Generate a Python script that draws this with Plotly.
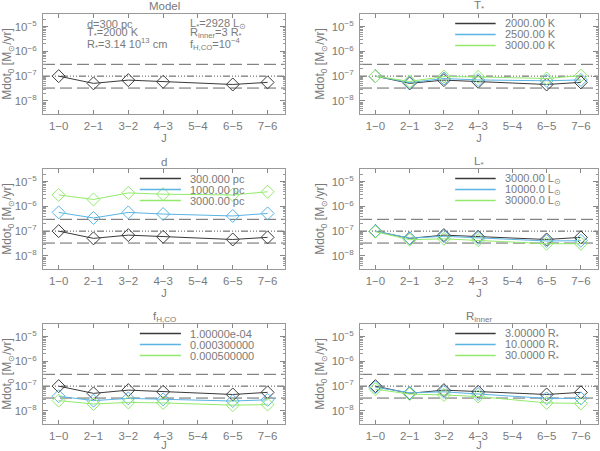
import plotly.graph_objects as go
from plotly.subplots import make_subplots

# transitions (5-4 has no measurement)
j_labels = ["1-0", "2-1", "3-2", "4-3", "5-4", "6-5", "7-6"]
j_pos = [1, 2, 3, 4, 5, 6, 7]

# mass-loss rates [Msun/yr]
model = [1.0e-7, 5.1e-8, 6.9e-8, 5.9e-8, None, 4.6e-8, 5.6e-8]

tstar_2500 = [1.0e-7, 5.5e-8, 8.0e-8, 7.0e-8, None, 6.5e-8, 7.0e-8]
tstar_3000 = [1.0e-7, 6.1e-8, 9.6e-8, 9.3e-8, None, 8.0e-8, 1.05e-7]

dist_1000 = [5.7e-7, 3.4e-7, 5.7e-7, 4.9e-7, None, 4.1e-7, 5.2e-7]
dist_3000 = [2.9e-6, 1.9e-6, 3.5e-6, 3.1e-6, None, 2.9e-6, 3.9e-6]

lstar_10000 = [1.0e-7, 5.2e-8, 6.2e-8, 5.3e-8, None, 4.0e-8, 4.1e-8]
lstar_30000 = [9.5e-8, 4.5e-8, 4.9e-8, 4.3e-8, None, 3.1e-8, 3.1e-8]

fhco_3e4 = [3.9e-8, 2.6e-8, 3.2e-8, 2.9e-8, None, 2.5e-8, 2.8e-8]
fhco_5e4 = [2.6e-8, 1.9e-8, 2.2e-8, 2.1e-8, None, 1.7e-8, 1.8e-8]

rin_10 = [9.0e-8, 5.4e-8, 5.9e-8, 4.8e-8, None, 3.2e-8, 3.2e-8]
rin_30 = [7.5e-8, 4.8e-8, 4.4e-8, 3.8e-8, None, 2.1e-8, 2.0e-8]

# reference levels: upper/lower limits and observed value
ref_dash = [3.0e-7, 3.3e-8]
ref_obs = 1.0e-7

panel_titles = ["Model", "T<sub>*</sub>", "d", "L<sub>*</sub>",
                "f<sub>H,CO</sub>", "R<sub>inner</sub>"]

panels = [
    [model],
    [model, tstar_2500, tstar_3000],
    [model, dist_1000, dist_3000],
    [model, lstar_10000, lstar_30000],
    [model, fhco_3e4, fhco_5e4],
    [model, rin_10, rin_30],
]
legend_labels = [
    [],
    ["2000.00 K", "2500.00 K", "3000.00 K"],
    ["300.000 pc", "1000.00 pc", "3000.00 pc"],
    ["3000.00 L<sub>⊙</sub>", "10000.0 L<sub>⊙</sub>", "30000.0 L<sub>⊙</sub>"],
    ["1.00000e-04", "0.000300000", "0.000500000"],
    ["3.00000 R<sub>*</sub>", "10.0000 R<sub>*</sub>", "30.0000 R<sub>*</sub>"],
]
model_text_left = ["d=300 pc", "T<sub>*</sub>=2000 K",
                   "R<sub>*</sub>=3.14 10<sup>13</sup> cm"]
model_text_right = ["L<sub>*</sub>=2928 L<sub>⊙</sub>",
                    "R<sub>inner</sub>=3 R<sub>*</sub>",
                    "f<sub>H,CO</sub>=10<sup>−4</sup>"]

colors = ["#3a3a3a", "#5ab4e4", "#92ea6c"]
GRAY = "#7a7a7a"
FONT = "Liberation Sans"

y_major = [1e-8, 1e-7, 1e-6, 1e-5]
y_major_text = ["10<sup>−8</sup>", "10<sup>−7</sup>", "10<sup>−6</sup>", "10<sup>−5</sup>"]
y_minor = [m * 10.0 ** e for e in range(-9, -4) for m in range(2, 10)]

x_dom = [[43 / 600, 285 / 600], [360 / 600, 598 / 600]]
y_dom = [[1 - 114 / 451, 1 - 14 / 451],
         [1 - 269 / 451, 1 - 169 / 451],
         [1 - 424 / 451, 1 - 324 / 451]]

fig = make_subplots(rows=3, cols=2)

for i, series in enumerate(panels):
    row, col = i // 2 + 1, i % 2 + 1
    for k, vals in enumerate(series):
        fig.add_trace(go.Scatter(
            x=j_pos, y=vals, mode="lines+markers", connectgaps=True,
            line=dict(color=colors[k], width=1),
            marker=dict(symbol="diamond-open", size=10, color=colors[k],
                        line=dict(width=1)),
            showlegend=False, hoverinfo="skip"), row=row, col=col)
    for lvl in ref_dash:
        fig.add_hline(y=lvl, row=row, col=col, layer="below",
                      line=dict(color="#666666", width=1, dash="12px,5px"))
    fig.add_hline(y=ref_obs, row=row, col=col, layer="below",
                  line=dict(color="#555555", width=1,
                            dash="7px,2px,1px,2px,1px,2px,1px,2px"))

    n = i + 1
    xs = "" if n == 1 else str(n)
    xa, ya = "xaxis" + xs, "yaxis" + xs
    fig.layout[xa].domain = x_dom[col - 1]
    fig.layout[ya].domain = y_dom[row - 1]

    # panel title
    fig.add_annotation(text=panel_titles[i], xref="x%s domain" % xs,
                       yref="y%s domain" % xs, x=0.5, y=1.075, yanchor="middle",
                       showarrow=False,
                       font=dict(family=FONT, size=11.5, color=GRAY))

    # legend drawn inside the panel
    rows_y = [0.905, 0.795, 0.685]
    for k, lab in enumerate(legend_labels[i]):
        fig.add_shape(type="line", xref="x%s domain" % xs, yref="y%s domain" % xs,
                      x0=0.40, x1=0.57, y0=rows_y[k], y1=rows_y[k],
                      line=dict(color=colors[k], width=1.5))
        fig.add_annotation(text=lab, xref="x%s domain" % xs, yref="y%s domain" % xs,
                           x=0.60, y=rows_y[k], xanchor="left", yanchor="middle",
                           showarrow=False,
                           font=dict(family=FONT, size=11, color=GRAY))

# model parameter text
for k in range(3):
    ry = [0.90, 0.805, 0.70][k]
    fig.add_annotation(text=model_text_left[k], xref="x domain", yref="y domain",
                       x=0.174, y=ry, xanchor="left", yanchor="middle",
                       showarrow=False, font=dict(family=FONT, size=11, color=GRAY))
    fig.add_annotation(text=model_text_right[k], xref="x domain", yref="y domain",
                       x=0.60, y=ry, xanchor="left", yanchor="middle",
                       showarrow=False, font=dict(family=FONT, size=11, color=GRAY))

fig.update_xaxes(range=[0.55, 7.5], tickmode="array", tickvals=j_pos,
                 ticktext=[s.replace("-", "−") for s in j_labels],
                 ticks="inside", ticklen=4, tickcolor="#888888",
                 showline=True, linecolor="#999999", linewidth=1, mirror="ticks",
                 showgrid=False, zeroline=False, ticklabelstandoff=1,
                 title=dict(text="J", standoff=0,
                            font=dict(family=FONT, size=11, color=GRAY)),
                 tickfont=dict(family=FONT, size=11.5, color=GRAY))
fig.update_yaxes(type="log", range=[-8.53, -4.49], tickmode="array",
                 tickvals=y_major, ticktext=y_major_text,
                 ticks="inside", ticklen=5, tickcolor="#888888",
                 minor=dict(tickvals=y_minor, ticks="inside", ticklen=2.5,
                            tickcolor="#999999", showgrid=False),
                 showline=True, linecolor="#999999", linewidth=1, mirror="ticks",
                 showgrid=False, zeroline=False, ticklabelstandoff=3,
                 title=dict(text="Mdot<sub>0</sub> [M<sub>⊙</sub>/yr]", standoff=4,
                            font=dict(family=FONT, size=12, color=GRAY)),
                 tickfont=dict(family=FONT, size=11.5, color=GRAY))

fig.update_layout(width=600, height=451, margin=dict(l=0, r=0, t=0, b=0),
                  plot_bgcolor="white", paper_bgcolor="white", showlegend=False)

fig.write_html("out.html", config={"displayModeBar": False},
               post_script="document.body.style.margin='0';")
